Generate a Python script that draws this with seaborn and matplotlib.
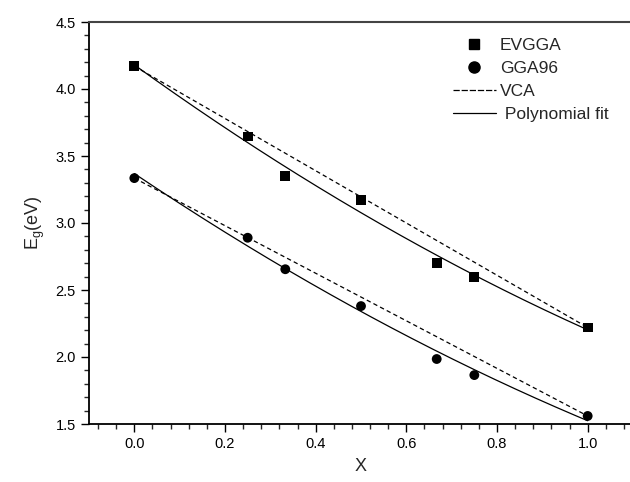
import numpy as np
import pandas as pd
import seaborn as sns
import matplotlib.pyplot as plt
from matplotlib.ticker import MultipleLocator
from matplotlib.lines import Line2D

# Composition x and band gaps (eV)
x_vals = [0.0, 0.25, 0.333, 0.5, 0.667, 0.75, 1.0]
evgga = [4.17, 3.645, 3.35, 3.17, 2.70, 2.595, 2.22]
gga96 = [3.335, 2.89, 2.655, 2.38, 1.985, 1.865, 1.56]

sns.set_style("ticks")
plt.rcParams['font.family'] = ['Liberation Sans', 'DejaVu Sans']

df = pd.DataFrame({
    "X": x_vals * 2,
    "Eg": evgga + gga96,
    "method": ["EVGGA"] * len(x_vals) + ["GGA96"] * len(x_vals),
})

fig = plt.figure(figsize=(6.3, 4.82), dpi=100)
ax = fig.add_axes([89 / 630, 58 / 482, 544 / 630, 402 / 482])

xs = np.linspace(0, 1, 200)
for series in (evgga, gga96):
    # virtual crystal approximation: linear between end members
    vca = series[0] + (series[-1] - series[0]) * xs
    sns.lineplot(x=xs, y=vca, ax=ax, color="black", lw=0.9,
                 linestyle=(0, (3.5, 2.5)), legend=False)
    coef = np.polyfit(x_vals, series, 2)
    sns.lineplot(x=xs, y=np.polyval(coef, xs), ax=ax, color="black",
                 lw=0.9, legend=False)

sns.scatterplot(data=df, x="X", y="Eg", style="method",
                markers={"EVGGA": "s", "GGA96": "o"}, color="black",
                s=50, edgecolor="black", linewidth=0, ax=ax, legend=False)

ax.set_xlim(-0.1, 1.1)
ax.set_ylim(1.5, 4.5)
ax.xaxis.set_major_locator(MultipleLocator(0.2))
ax.xaxis.set_minor_locator(MultipleLocator(0.04))
ax.yaxis.set_major_locator(MultipleLocator(0.5))
ax.yaxis.set_minor_locator(MultipleLocator(0.1))
ax.tick_params(which="major", length=6, width=1.0, direction="out",
               labelsize=10.5, colors="black")
ax.tick_params(which="minor", length=3.5, width=1.0, direction="out")
ax.xaxis.set_major_formatter(plt.FormatStrFormatter("%.1f"))
ax.yaxis.set_major_formatter(plt.FormatStrFormatter("%.1f"))

for side in ("left", "bottom"):
    ax.spines[side].set_linewidth(1.3)
    ax.spines[side].set_color("black")
ax.spines["top"].set_visible(True)
ax.spines["top"].set_linewidth(1.5)
ax.spines["top"].set_color("#444444")
ax.spines["right"].set_visible(False)

ax.set_xlabel("X", fontsize=13, labelpad=5)
ax.set_ylabel("E$_\\mathregular{g}$(eV)", fontsize=13, labelpad=6)

handles = [
    Line2D([], [], marker="s", color="black", linestyle="none", markersize=7),
    Line2D([], [], marker="o", color="black", linestyle="none", markersize=8),
    Line2D([], [], color="black", lw=0.9, linestyle=(0, (5, 1.5))),
    Line2D([], [], color="black", lw=0.9),
]
labels = ["EVGGA", "GGA96", "VCA", " Polynomial fit"]
ax.legend(handles, labels, loc="upper left", bbox_to_anchor=(0.64, 1.0),
          frameon=False, fontsize=12.5, handlelength=2.5, handletextpad=0.2,
          labelspacing=0.45)

fig.savefig("out.png", dpi=100)
